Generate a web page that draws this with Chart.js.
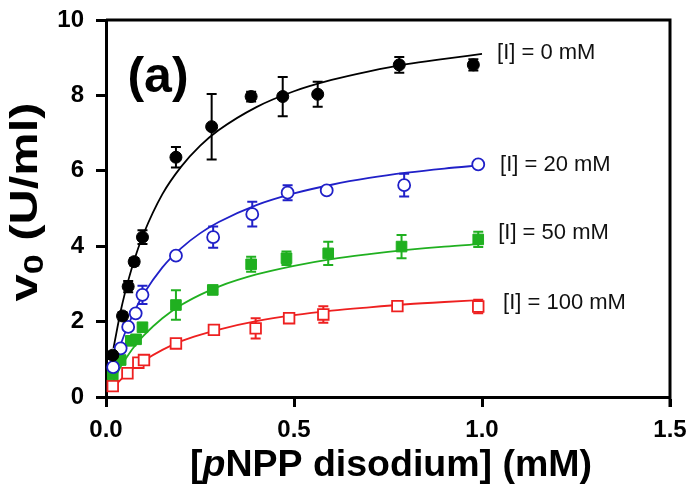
<!DOCTYPE html>
<html>
<head>
<meta charset="utf-8">
<script src="https://cdn.jsdelivr.net/npm/chart.js@4.4.1/dist/chart.umd.min.js"></script>
<style>
  html, body { margin: 0; padding: 0; background: #fff; }
</style>
</head>
<body>
<canvas id="chart" width="692" height="492"></canvas>
<script>
// measured points, [pNPP] in mM, v0 in U/ml, error = SD bar half length
const conc0 = [0.018, 0.044, 0.059, 0.075, 0.097, 0.186, 0.281, 0.386, 0.47, 0.563, 0.78, 0.977];
const rate0 = [1.11, 2.15, 2.93, 3.59, 4.24, 6.36, 7.17, 7.97, 7.97, 8.03, 8.81, 8.81];
const err0 = [0.1, 0.1, 0.15, 0.1, 0.18, 0.27, 0.87, 0.13, 0.52, 0.33, 0.21, 0.15];

const conc20 = [0.019, 0.039, 0.059, 0.079, 0.097, 0.186, 0.285, 0.389, 0.483, 0.587, 0.793, 0.99];
const rate20 = [0.79, 1.29, 1.86, 2.22, 2.71, 3.75, 4.24, 4.85, 5.42, 5.48, 5.62, 6.17];
const err20 = [0, 0, 0, 0, 0.24, 0, 0.28, 0.33, 0.2, 0, 0.3, 0];

const conc50 = [0.018, 0.039, 0.066, 0.08, 0.097, 0.186, 0.284, 0.386, 0.48, 0.591, 0.786, 0.99];
const rate50 = [0.6, 0.98, 1.49, 1.53, 1.85, 2.44, 2.84, 3.52, 3.68, 3.81, 3.99, 4.18];
const err50 = [0, 0, 0, 0, 0.1, 0.39, 0.1, 0.2, 0.18, 0.31, 0.31, 0.2];

const conc100 = [0.018, 0.057, 0.086, 0.101, 0.186, 0.287, 0.398, 0.487, 0.578, 0.775, 0.99];
const rate100 = [0.29, 0.63, 0.91, 0.98, 1.42, 1.78, 1.82, 2.09, 2.19, 2.41, 2.40];
const err100 = [0, 0, 0, 0, 0, 0, 0.27, 0.1, 0.22, 0, 0.18];

// fitted curves
const concFit = [0.02, 0.04, 0.06, 0.08, 0.1, 0.15, 0.2, 0.25, 0.3, 0.4, 0.5, 0.6, 0.7, 0.8, 0.9, 1.0];
const fit0 = [1.30, 2.32, 3.12, 3.78, 4.33, 5.38, 6.11, 6.66, 7.08, 7.69, 8.11, 8.41, 8.64, 8.83, 8.97, 9.10];
const fit20 = [0.79, 1.42, 1.93, 2.36, 2.73, 3.44, 3.95, 4.34, 4.64, 5.09, 5.40, 5.63, 5.81, 5.95, 6.06, 6.15];
const fit50 = [0.44, 0.82, 1.13, 1.40, 1.63, 2.09, 2.44, 2.71, 2.93, 3.25, 3.48, 3.66, 3.79, 3.90, 3.99, 4.06];
const fit100 = [0.26, 0.47, 0.66, 0.82, 0.96, 1.25, 1.48, 1.65, 1.79, 2.01, 2.17, 2.29, 2.38, 2.46, 2.52, 2.57];

const seriesLabels = ['[I] = 0 mM', '[I] = 20 mM', '[I] = 50 mM', '[I] = 100 mM'];
const xTicks = [0, 0.5, 1.0, 1.5];
const yTicks = [0, 2, 4, 6, 8, 10];

const BLACK = '#000000';
const BLUE = '#2020c8';
const GREEN = '#20b020';
const RED = '#ee2020';

const FONT = '"Liberation Sans", Arial, sans-serif';

const pts = (xs, ys) => xs.map((x, i) => ({ x: x, y: ys[i] }));

function pointSet(label, xs, ys, errs, color, style, open) {
  return {
    label: label,
    data: pts(xs, ys),
    errors: errs,
    showLine: false,
    pointStyle: style,
    pointRadius: style === 'rect' ? 7.5 : 6,
    pointBorderWidth: open ? 1.8 : 1,
    pointBorderColor: color,
    pointBackgroundColor: open ? '#ffffff' : color,
    borderColor: color,
    backgroundColor: color,
    order: 0
  };
}

function curveSet(ys, color) {
  return {
    data: pts(concFit, ys),
    showLine: true,
    cubicInterpolationMode: 'monotone',
    pointRadius: 0,
    borderColor: color,
    borderWidth: 1.8,
    order: 1
  };
}

const errorBars = {
  id: 'errorBars',
  beforeDatasetsDraw(chart) {
    const ctx = chart.ctx;
    const xs = chart.scales.x, ys = chart.scales.y;
    chart.data.datasets.forEach(ds => {
      if (!ds.errors) return;
      ctx.save();
      ctx.strokeStyle = ds.borderColor;
      ctx.lineWidth = 2;
      ds.data.forEach((p, i) => {
        const e = ds.errors[i];
        if (!e) return;
        const px = xs.getPixelForValue(p.x);
        const top = ys.getPixelForValue(p.y + e);
        const bot = ys.getPixelForValue(p.y - e);
        ctx.beginPath();
        ctx.moveTo(px, top); ctx.lineTo(px, bot);
        ctx.moveTo(px - 5, top); ctx.lineTo(px + 5, top);
        ctx.moveTo(px - 5, bot); ctx.lineTo(px + 5, bot);
        ctx.stroke();
      });
      ctx.restore();
    });
  }
};

// draws runs of text centred at (cx, cy) stretched to a given width
function drawRuns(ctx, runs, cx, cy, targetWidth) {
  let w = 0;
  runs.forEach(r => { ctx.font = r.font; w += ctx.measureText(r.text).width; });
  ctx.save();
  ctx.translate(cx, cy);
  ctx.scale(targetWidth / w, 1);
  let x = -w / 2;
  runs.forEach(r => {
    ctx.font = r.font;
    ctx.fillText(r.text, x, r.dy || 0);
    x += ctx.measureText(r.text).width;
  });
  ctx.restore();
}

const decorations = {
  id: 'decorations',
  afterDraw(chart) {
    const ctx = chart.ctx;
    const a = chart.chartArea;
    const xs = chart.scales.x, ys = chart.scales.y;
    ctx.save();
    // box frame top and right
    ctx.strokeStyle = '#000';
    ctx.lineWidth = 3;
    ctx.beginPath();
    ctx.moveTo(a.left, a.top);
    ctx.lineTo(a.right, a.top);
    ctx.lineTo(a.right, a.bottom + 10);
    ctx.stroke();

    // series labels
    const labelPos = [[1.04, 9.12], [1.048, 6.15], [1.043, 4.35], [1.056, 2.49]];
    ctx.fillStyle = '#111';
    ctx.font = '22px ' + FONT;
    ctx.textBaseline = 'middle';
    ctx.textAlign = 'left';
    seriesLabels.forEach((t, i) => {
      ctx.fillText(t, xs.getPixelForValue(labelPos[i][0]), ys.getPixelForValue(labelPos[i][1]));
    });

    // panel letter
    ctx.fillStyle = '#000';
    ctx.font = 'bold 50px ' + FONT;
    ctx.textAlign = 'center';
    ctx.fillText('(a)', a.left + 52, a.top + 58);

    ctx.textAlign = 'left';
    ctx.textBaseline = 'alphabetic';

    // x title with italic p
    drawRuns(ctx, [
      { text: '[', font: 'bold 36px ' + FONT },
      { text: 'p', font: 'italic bold 36px ' + FONT },
      { text: 'NPP disodium] (mM)', font: 'bold 36px ' + FONT }
    ], (a.left + a.right) / 2 + 3, 476, 402);

    // y title with subscript 0
    ctx.save();
    ctx.translate(37, 202);
    ctx.rotate(-Math.PI / 2);
    drawRuns(ctx, [
      { text: 'v', font: 'bold 38px ' + FONT },
      { text: '0', font: 'bold 28px ' + FONT, dy: 6 },
      { text: ' (U/ml)', font: 'bold 38px ' + FONT }
    ], 0, 0, 199);
    ctx.restore();
    ctx.restore();
  }
};

const tickFont = { family: FONT, size: 24, weight: 'bold' };

new Chart(document.getElementById('chart'), {
  type: 'scatter',
  data: {
    datasets: [
      pointSet(seriesLabels[0], conc0, rate0, err0, BLACK, 'circle', false),
      pointSet(seriesLabels[1], conc20, rate20, err20, BLUE, 'circle', true),
      pointSet(seriesLabels[2], conc50, rate50, err50, GREEN, 'rect', false),
      pointSet(seriesLabels[3], conc100, rate100, err100, RED, 'rect', true),
      curveSet(fit0, BLACK),
      curveSet(fit20, BLUE),
      curveSet(fit50, GREEN),
      curveSet(fit100, RED)
    ]
  },
  options: {
    responsive: false,
    animation: false,
    layout: { padding: { left: 0, right: 22, top: 20, bottom: 0 } },
    plugins: { legend: { display: false }, tooltip: { enabled: false } },
    scales: {
      x: {
        type: 'linear',
        min: 0, max: 1.5,
        afterBuildTicks: s => { s.ticks = xTicks.map(v => ({ value: v })); },
        afterFit: s => { s.height = 95; s.paddingLeft = 0; s.paddingRight = 0; },
        ticks: { font: tickFont, color: '#000', padding: 9, callback: v => v.toFixed(1), maxRotation: 0 },
        grid: { drawOnChartArea: false, tickLength: 10, tickWidth: 3, tickColor: '#000' },
        border: { color: '#000', width: 3 }
      },
      y: {
        min: 0, max: 10,
        afterBuildTicks: s => { s.ticks = yTicks.map(v => ({ value: v })); },
        afterFit: s => { s.width = 106; s.paddingTop = 0; s.paddingBottom = 0; },
        ticks: { font: tickFont, color: '#000', padding: 12 },
        grid: { drawOnChartArea: false, tickLength: 10, tickWidth: 3, tickColor: '#000' },
        border: { color: '#000', width: 3 }
      }
    }
  },
  plugins: [errorBars, decorations]
});
</script>
</body>
</html>
